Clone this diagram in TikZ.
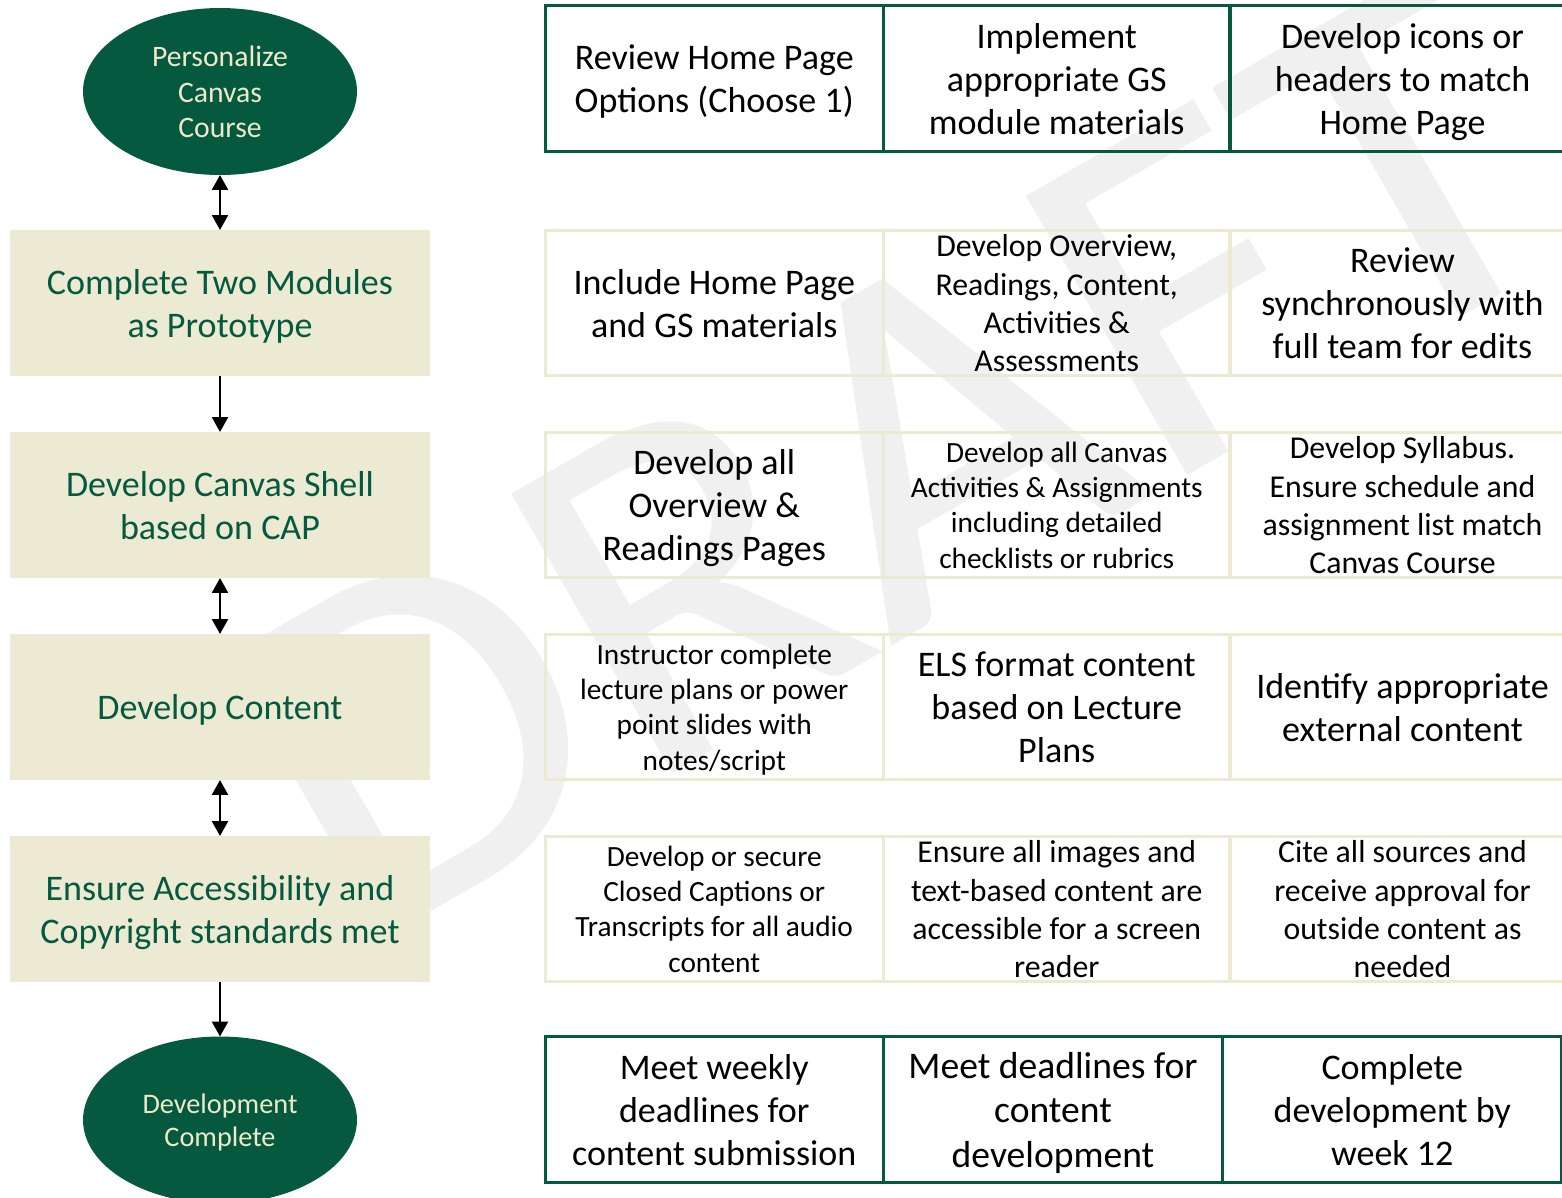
\documentclass[tikz,border=0pt]{standalone}
\usepackage{fontspec}
\setmainfont{Carlito}
\usepackage{xcolor}
\usetikzlibrary{arrows.meta,shapes,positioning}
\definecolor{dkgreen}{HTML}{04593F}
\definecolor{sand}{HTML}{ECEAD2}
\definecolor{sandline}{HTML}{ECEAD3}
\definecolor{cream}{HTML}{EDE9C9}
\definecolor{wmgray}{HTML}{F0F0F0}

\begin{document}
\begin{tikzpicture}[x=0.02cm, y=-0.02cm,
		roomy/.style={execute at begin node={\rule{0pt}{0.96em}}, execute at end node={\rule[-0.25em]{0pt}{0.25em}}},
		snug/.style={execute at begin node={\rule{0pt}{0.82em}}, execute at end node={\rule[-0.11em]{0pt}{0.11em}}},
		oval/.style={ellipse, fill=dkgreen, text=cream, minimum width=5.48cm, minimum height=3.34cm, inner sep=0pt, outer sep=0pt, text width=3.2cm, align=flush center, roomy},
		stage/.style={rectangle, fill=sand, text=dkgreen, minimum width=8.4cm, minimum height=2.92cm, inner sep=0pt, outer sep=0pt, text width=8cm, align=flush center, txtL},
		cell/.style={rectangle, draw=sandline, line width=1.7pt, minimum height=2.91cm, inner sep=0pt, outer sep=0pt, text width=6.3cm, align=flush center},
		greencell/.style={cell, draw=dkgreen},
		txtL/.style={font=\fontsize{20.5}{24.4}\selectfont, roomy},
		txtM/.style={font=\fontsize{18.1}{21.8}\selectfont, snug},
		txtS/.style={font=\fontsize{16.7}{20}\selectfont, roomy},
		txtXL/.style={font=\fontsize{21.4}{25.5}\selectfont, roomy},
		oneway/.style={line width=1.6pt, -{Triangle[length=8.5pt, width=9pt]}},
		twoway/.style={line width=1.6pt, {Triangle[length=8.5pt, width=9pt]}-{Triangle[length=8.5pt, width=9pt]}},
		watermark/.style={text=wmgray, anchor=base west, inner sep=0pt, rotate=30, xscale=1.06, font=\fontsize{286}{290}\selectfont}]
		\useasboundingbox (0,0) rectangle (1562,1197);
		\node [watermark] (wm) at (355,956) {DRAFT};

		\node [oval, font=\fontsize{16.9}{20.1}\selectfont] (pers) at (220,91.5) {Personalize\\Canvas\\Course};
		\node [stage] (proto) at (220,303) {Complete Two Modules\\as Prototype};
		\node [stage] (shell) at (220,505) {Develop Canvas Shell\\based on CAP};
		\node [stage] (content) at (220,707) {Develop Content};
		\node [stage] (access) at (220,909) {Ensure Accessibility and\\Copyright standards met};
		\node [oval, font=\fontsize{16.1}{18.7}\selectfont] (done) at (220,1120) {Development\\Complete};

		\draw [twoway] (pers) -- (proto);
		\draw [oneway] (proto) -- (shell);
		\draw [twoway] (shell) -- (content);
		\draw [twoway] (content) -- (access);
		\draw [oneway] (access) -- (done);

		\node [greencell, txtL, minimum width=6.77cm] (a1) at (714.25,78.5) {Review Home Page\\Options (Choose 1)};
		\node [greencell, txtL, minimum width=6.93cm] (a2) at (1056.75,78.5) {Implement\\appropriate GS\\module materials};
		\node [greencell, txtL, minimum width=6.9cm] (a3) at (1402.5,78.5) {Develop icons or\\headers to match\\Home Page};

		\node [cell, txtL, minimum width=6.77cm] (b1) at (714.25,303) {Include Home Page\\and GS materials};
		\node [cell, txtM, minimum width=6.93cm] (b2) at (1056.75,303) {Develop Overview,\\Readings, Content,\\Activities \&\\Assessments};
		\node [cell, txtL, minimum width=6.9cm] (b3) at (1402.5,303) {Review\\synchronously with\\full team for edits};

		\node [cell, txtL, minimum width=6.77cm] (c1) at (714.25,505) {Develop all\\Overview \&\\Readings Pages};
		\node [cell, txtS, minimum width=6.93cm] (c2) at (1056.75,505) {Develop all Canvas\\Activities \& Assignments\\including detailed\\checklists or rubrics};
		\node [cell, txtM, minimum width=6.9cm] (c3) at (1402.5,505) {Develop Syllabus.\\Ensure schedule and\\assignment list match\\Canvas Course};

		\node [cell, txtS, minimum width=6.77cm] (d1) at (714.25,707) {Instructor complete\\lecture plans or power\\point slides with\\notes/script};
		\node [cell, txtL, minimum width=6.93cm] (d2) at (1056.75,707) {ELS format content\\based on Lecture\\Plans};
		\node [cell, txtL, minimum width=6.9cm] (d3) at (1402.5,707) {Identify appropriate\\external content};

		\node [cell, txtS, minimum width=6.77cm] (e1) at (714.25,909) {Develop or secure\\Closed Captions or\\Transcripts for all audio\\content};
		\node [cell, txtM, minimum width=6.93cm] (e2) at (1056.75,909) {Ensure all images and\\text-based content are\\accessible for a screen\\reader};
		\node [cell, txtM, minimum width=6.9cm] (e3) at (1402.5,909) {Cite all sources and\\receive approval for\\outside content as\\needed};

		\node [greencell, txtL, minimum width=6.77cm] (f1) at (714.25,1109.5) {Meet weekly\\deadlines for\\content submission};
		\node [greencell, txtXL, minimum width=6.78cm] (f2) at (1053,1109.5) {Meet deadlines for\\content\\development};
		\node [greencell, txtL, minimum width=6.79cm] (f3) at (1392.25,1109.5) {Complete\\development by\\week 12};
	\end{tikzpicture}
\end{document}
